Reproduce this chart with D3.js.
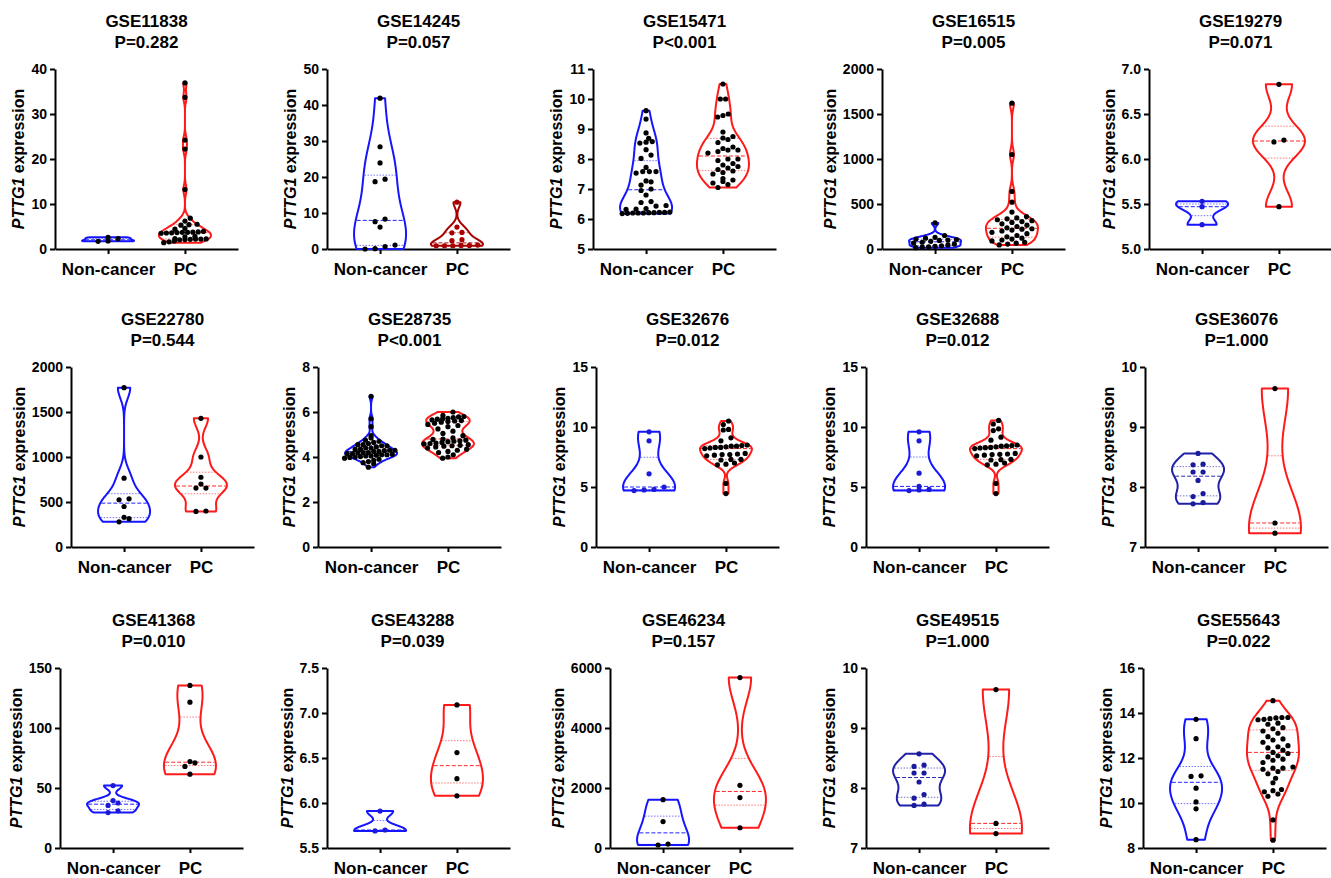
<!DOCTYPE html>
<html>
<head>
<meta charset="utf-8">
<script src="https://cdn.jsdelivr.net/npm/d3@7"></script>
<style>
  body { margin: 0; background: #fff; }
  text { font-family: "Liberation Sans", Arial, sans-serif; font-weight: bold; fill: #000; }
</style>
</head>
<body>
<svg width="1331" height="878"></svg>
<script>
// ---- data ----
var groups = ["Non-cancer", "PC"];
var datasets = ["GSE11838", "GSE14245", "GSE15471", "GSE16515", "GSE19279",
                "GSE22780", "GSE28735", "GSE32676", "GSE32688", "GSE36076",
                "GSE41368", "GSE43288", "GSE46234", "GSE49515", "GSE55643"];
var pLabels = ["P=0.282", "P=0.057", "P<0.001", "P=0.005", "P=0.071",
               "P=0.544", "P<0.001", "P=0.012", "P=0.012", "P=1.000",
               "P=0.010", "P=0.039", "P=0.157", "P=1.000", "P=0.022"];
var yTicks = [[0, 10, 20, 30, 40], [0, 10, 20, 30, 40, 50], [5, 6, 7, 8, 9, 10, 11],
              [0, 500, 1000, 1500, 2000], [5, 5.5, 6, 6.5, 7],
              [0, 500, 1000, 1500, 2000], [0, 2, 4, 6, 8], [0, 5, 10, 15], [0, 5, 10, 15],
              [7, 8, 9, 10], [0, 50, 100, 150], [5.5, 6, 6.5, 7, 7.5],
              [0, 2000, 4000, 6000], [7, 8, 9, 10], [8, 10, 12, 14, 16]];

var nonCancer = [
  [2.6, 2.3, 1.8, 1.7],
  [41.9, 28.4, 23.9, 19.4, 18.7, 8.3, 7.6, 6.1, 1.1, 0.7, 0.1, 0.0],
  [9.61, 9.33, 8.87, 8.69, 8.58, 8.56, 8.53, 8.31, 8.13, 8.02, 7.72, 7.58, 7.58, 7.58, 7.53,
   7.27, 7.24, 7.13, 7.0, 6.95, 6.8, 6.58, 6.55, 6.45, 6.43, 6.35, 6.33, 6.32,
   6.23, 6.22, 6.22, 6.21, 6.21, 6.2, 6.2, 6.2, 6.19, 6.18],
  [290, 150, 130, 120, 110, 105, 100, 95, 85, 75, 65, 55, 45, 35, 30, 25, 20, 15],
  [5.53, 5.47, 5.27],
  [1770, 765, 535, 525, 450, 330, 315, 280],
  [6.7, 5.7, 5.35, 4.95, 4.85, 4.75, 4.7, 4.65, 4.6, 4.55, 4.55, 4.5, 4.5, 4.45, 4.4, 4.4,
   4.35, 4.35, 4.3, 4.3, 4.28, 4.25, 4.25, 4.2, 4.2, 4.18, 4.15, 4.15, 4.12, 4.1, 4.1, 4.08,
   4.05, 4.05, 4.02, 4.0, 3.98, 3.95, 3.9, 3.85, 3.8, 3.75, 3.7, 3.55],
  [9.6, 8.85, 6.1, 5.0, 4.8, 4.75, 4.7],
  [9.6, 8.85, 6.15, 5.05, 4.8, 4.75, 4.7],
  [8.56, 8.38, 8.37, 8.25, 8.25, 8.11, 7.89, 7.84, 7.74, 7.72],
  [52, 39.5, 37.5, 35.5, 31, 29.5],
  [5.91, 5.70, 5.69],
  [1610, 880, 130, 100],
  [8.57, 8.38, 8.36, 8.25, 8.25, 8.10, 7.89, 7.83, 7.73, 7.71],
  [13.72, 12.86, 11.21, 11.18, 10.66, 10.05, 9.74, 8.37]
];

var cancer = [
  [36.9, 33.7, 24.2, 22.2, 13.2, 6.85, 6.2, 5.5, 5.4, 5.3, 4.6, 4.4, 3.9, 3.8, 3.75, 3.7,
   3.7, 3.65, 3.6, 3.55, 3.5, 2.8, 2.7, 2.3, 2.25, 2.2, 2.2, 2.15, 2.1, 2.05, 1.8, 1.6, 1.4],
  [13.0, 6.1, 4.6, 4.5, 2.6, 2.3, 1.1, 1.0, 1.0, 0.9, 0.9, 0.9],
  [10.5, 10.0, 10.0, 9.5, 9.45, 9.4, 8.9, 8.75, 8.7, 8.65, 8.55, 8.4, 8.35, 8.3, 8.3, 8.25,
   8.2, 8.0, 8.0, 7.95, 7.85, 7.8, 7.75, 7.7, 7.65, 7.6, 7.55, 7.5, 7.35, 7.3, 7.25, 7.2,
   7.15, 7.05],
  [1620, 1050, 640, 520, 410, 360, 345, 335, 325, 315, 305, 295, 280, 265, 250, 235, 225,
   220, 210, 200, 185, 170, 150, 135, 120, 110, 100, 90, 75, 65, 55, 45],
  [6.83, 6.21, 6.19, 5.47],
  [1430, 1000, 775, 700, 655, 655, 400, 395],
  [6.0, 5.85, 5.8, 5.78, 5.75, 5.72, 5.7, 5.68, 5.65, 5.62, 5.6, 5.58, 5.55, 5.5, 5.45, 5.4,
   5.35, 5.25, 5.15, 5.05, 4.95, 4.85, 4.8, 4.78, 4.75, 4.72, 4.7, 4.68, 4.65, 4.62, 4.6,
   4.58, 4.55, 4.52, 4.5, 4.48, 4.45, 4.4, 4.35, 4.3, 4.25, 4.2, 4.1, 4.0, 3.95],
  [10.5, 10.2, 9.8, 9.75, 9.1, 8.85, 8.5, 8.45, 8.4, 8.4, 8.35, 8.3, 8.3, 8.25, 8.2, 7.8,
   7.75, 7.7, 7.7, 7.65, 7.6, 7.3, 7.3, 7.25, 7.0, 6.9, 6.85, 5.3, 4.45],
  [10.55, 10.25, 9.85, 9.7, 9.15, 8.9, 8.5, 8.45, 8.42, 8.4, 8.35, 8.3, 8.28, 8.25, 8.2,
   7.8, 7.75, 7.72, 7.7, 7.65, 7.6, 7.3, 7.28, 7.25, 7.0, 6.9, 6.85, 5.3, 4.45],
  [9.64, 7.40, 7.23],
  [135.5, 121.5, 72, 71, 68, 61.5],
  [7.09, 6.56, 6.27, 6.08],
  [5680, 2090, 1680, 675],
  [9.64, 7.41, 7.24],
  [14.55, 13.8, 13.8, 13.78, 13.75, 13.72, 13.7, 13.55, 13.5, 13.35, 13.3, 13.2, 13.1, 12.95,
   12.85, 12.8, 12.7, 12.55, 12.5, 12.45, 12.35, 12.25, 12.2, 12.1, 12.05, 11.95, 11.9, 11.8,
   11.6, 11.55, 11.55, 11.5, 11.4, 11.3, 11.1, 10.9, 10.6, 10.55, 10.5, 10.4, 10.3, 9.25, 8.35]
];

// ---- styles ----
var blue = "#1515ff", navy = "#2020a8", red = "#ff1a1a", darkRed = "#a80000";
var ncStroke = [blue, blue, blue, blue, blue, blue, blue, blue, blue, navy, blue, blue, blue, navy, blue];
var pcStroke = [red, darkRed, red, red, red, red, red, red, red, red, red, red, red, red, red];
var ncDot = ["#000", "#000", "#000", "#000", "#1a1ad8", "#000", "#000", "#1a1ad8", "#1a1ad8",
             "#1a1a9c", "#1a1ad8", "#1a1ad8", "#000", "#1a1a9c", "#000"];
var pcDot = ["#000", darkRed, "#000", "#000", "#000", "#000", "#000", "#000", "#000", "#000",
             "#000", "#000", "#000", "#000", "#000"];

// ---- layout ----
var axisX = [[55, 327, 593, 882, 1149], [71, 318, 596, 866, 1145], [60, 327, 610, 866, 1143]];
var titleShift = [0, 0, 0, 0, 0, 0, 0, 0, 0, 0, 2, -6, -18, 0, 4];
var rowTop = [69, 367, 668];
var plotH = 180, plotW = 183;
var dotR = 2.6, dotStep = 5.3, maxGap = 10, rowH = 4, halfMax = 26;

var svg = d3.select("svg");

function bandwidth(vals) {
  var s = vals.slice().sort(d3.ascending);
  var sd = d3.deviation(s) || 1;
  var iqr = d3.quantile(s, 0.75) - d3.quantile(s, 0.25);
  var m = Math.min(sd, iqr / 1.34);
  if (!(m > 0)) m = sd;
  return 0.9 * m * Math.pow(s.length, -0.2);
}

function density(vals, h, v) {
  var s = 0;
  vals.forEach(function (d) { var u = (v - d) / h; s += Math.exp(-0.5 * u * u); });
  return s;
}

// dots close in height share a row, spread across the violin width;
// a row slides half a gap if it would sit on the row below
function spread(vals, y, halfW) {
  var pts = vals.map(function (v) { return { v: v, py: y(v) }; })
    .sort(function (a, b) { return b.py - a.py; });
  var rows = [], cur = null;
  pts.forEach(function (p) {
    if (!cur || cur.start - p.py >= rowH) { cur = { start: p.py, items: [] }; rows.push(cur); }
    cur.items.push(p);
  });
  var placed = [];
  rows.forEach(function (r) {
    var n = r.items.length;
    var avail = 2 * (halfW(d3.mean(r.items, function (p) { return p.v; })) - dotR - 2);
    var gap = n > 1 ? Math.max(dotStep, Math.min(maxGap, avail / (n - 1))) : 0;
    var best = null;
    [0, gap / 2, -gap / 2, dotStep / 2, -dotStep / 2].forEach(function (shift) {
      var hits = 0;
      r.items.forEach(function (p, k) {
        var dx = (k - (n - 1) / 2) * gap + shift;
        placed.forEach(function (q) {
          var a = q.dx - dx, b = q.py - p.py;
          if (a * a + b * b < 4 * dotR * dotR * 0.8) hits++;
        });
      });
      if (!best || hits < best.hits) best = { shift: shift, hits: hits };
    });
    r.items.forEach(function (p, k) {
      p.dx = (k - (n - 1) / 2) * gap + best.shift;
      placed.push(p);
    });
  });
  return pts;
}

datasets.forEach(function (name, i) {
  var row = Math.floor(i / 5), col = i % 5;
  var x0 = axisX[row][col], top = rowTop[row], bottom = top + plotH;
  var ticks = yTicks[i];

  var y = d3.scaleLinear().domain(d3.extent(ticks)).range([bottom, top]);
  var x = d3.scalePoint().domain(groups).range([x0, x0 + plotW]).padding(0.69);

  var g = svg.append("g");
  var cx = (x(groups[0]) + x(groups[1])) / 2 + titleShift[i];

  // titles
  g.append("text").attr("x", cx).attr("y", top - 42).attr("text-anchor", "middle")
    .style("font-size", "17px").text(name);
  g.append("text").attr("x", cx).attr("y", top - 21).attr("text-anchor", "middle")
    .style("font-size", "17px").text(pLabels[i]);

  // y axis
  var fmt = ticks.some(function (t) { return t % 1 !== 0; }) ? d3.format(".1f") : d3.format("d");
  var ya = g.append("g").attr("transform", "translate(" + x0 + ",0)")
    .call(d3.axisLeft(y).tickValues(ticks).tickFormat(fmt).tickSize(5).tickSizeOuter(0).tickPadding(3));
  ya.selectAll("path,line").attr("stroke", "#000").attr("stroke-width", 2);
  ya.selectAll("text").style("font-size", "14px").style("font-weight", "bold")
    .style("font-family", "'Liberation Sans', Arial, sans-serif");

  // x axis
  var xa = g.append("g").attr("transform", "translate(0," + bottom + ")")
    .call(d3.axisBottom(x).tickSize(5).tickSizeOuter(0).tickPadding(9));
  xa.selectAll("path,line").attr("stroke", "#000").attr("stroke-width", 2);
  xa.selectAll("text").style("font-size", "17px").style("font-weight", "bold")
    .style("font-family", "'Liberation Sans', Arial, sans-serif");

  // y label
  var bb = ya.node().getBBox();
  var lab = g.append("text")
    .attr("transform", "translate(" + (x0 + bb.x - 7) + "," + ((top + bottom) / 2) + ") rotate(-90)")
    .attr("text-anchor", "middle").style("font-size", "16px");
  lab.append("tspan").style("font-style", "italic").text("PTTG1");
  lab.append("tspan").text(" expression");

  // violins, quartile lines, dots
  [nonCancer[i], cancer[i]].forEach(function (vals, gi) {
    var c = x(groups[gi]);
    var stroke = gi === 0 ? ncStroke[i] : pcStroke[i];
    var dot = gi === 0 ? ncDot[i] : pcDot[i];
    var h = bandwidth(vals);
    var lo = d3.min(vals), hi = d3.max(vals);
    var grid = d3.range(121).map(function (k) { return lo + (hi - lo) * k / 120; });
    var dens = grid.map(function (v) { return density(vals, h, v); });
    var w = d3.scaleLinear().domain([0, d3.max(dens)]).range([0, halfMax]);
    var halfW = function (v) { return w(density(vals, h, v)); };
    var shape = grid.map(function (v, k) { return { v: v, w: w(dens[k]) }; });

    var area = d3.area().curve(d3.curveCatmullRom)
      .y(function (d) { return y(d.v); })
      .x0(function (d) { return c - d.w; })
      .x1(function (d) { return c + d.w; });

    g.append("path").attr("d", area(shape)).attr("fill", "none")
      .attr("stroke", stroke).attr("stroke-width", 2).attr("stroke-linejoin", "round");

    var sorted = vals.slice().sort(d3.ascending);
    [[0.25, "1.5,1.5"], [0.5, "4,2"], [0.75, "1.5,1.5"]].forEach(function (q) {
      var qv = d3.quantile(sorted, q[0]);
      var hw = halfW(qv) - 1;
      g.append("line").attr("x1", c - hw).attr("x2", c + hw)
        .attr("y1", y(qv)).attr("y2", y(qv))
        .attr("stroke", stroke).attr("stroke-width", 1)
        .attr("stroke-opacity", q[0] === 0.5 ? 0.95 : 0.6)
        .attr("stroke-dasharray", q[1]);
    });

    g.append("g").selectAll("circle").data(spread(vals, y, halfW)).enter().append("circle")
      .attr("cx", function (d) { return c + d.dx; })
      .attr("cy", function (d) { return d.py; })
      .attr("r", dotR).attr("fill", dot);
  });
});
</script>
</body>
</html>
